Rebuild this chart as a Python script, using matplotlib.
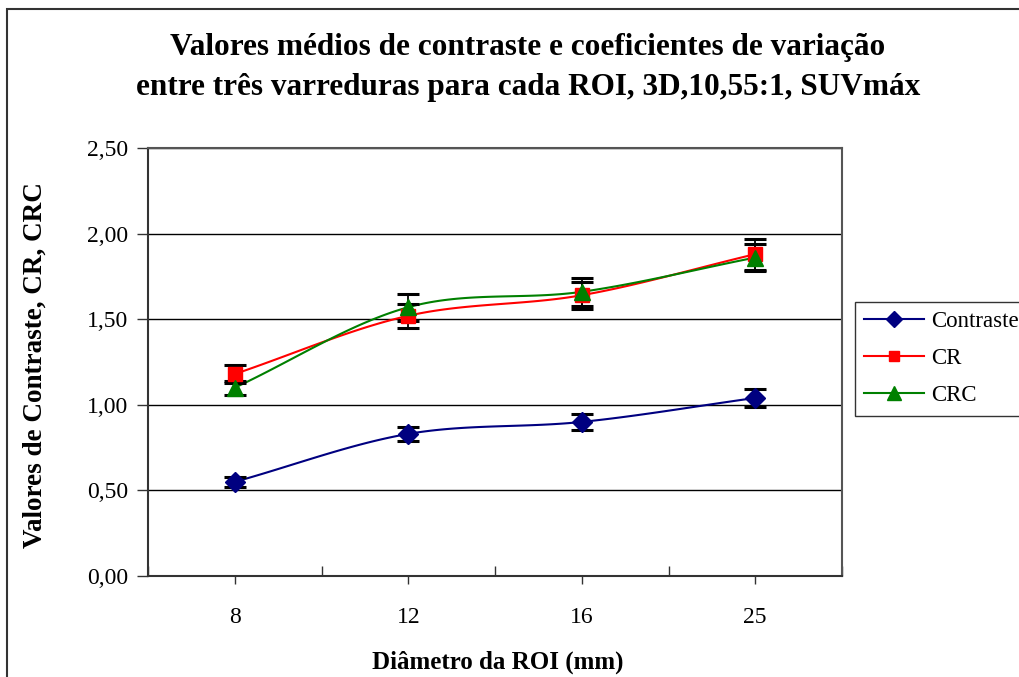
import numpy as np
import matplotlib
matplotlib.use("Agg")
import matplotlib.pyplot as plt
from matplotlib.patches import Rectangle
from matplotlib.ticker import FixedLocator, FuncFormatter

# ---- data ----
categories = ["8", "12", "16", "25"]
contraste = [0.55, 0.83, 0.90, 1.04]
contraste_err = [0.03, 0.04, 0.045, 0.05]
cr = [1.18, 1.52, 1.64, 1.88]
cr_err = [0.05, 0.07, 0.08, 0.09]
crc = [1.10, 1.57, 1.66, 1.86]
crc_err = [0.04, 0.08, 0.08, 0.08]

series = [
    ("Contraste", contraste, contraste_err, "#000080", "D", 10),
    ("CR", cr, cr_err, "#FF0000", "s", 9.5),
    ("CRC", crc, crc_err, "#008000", "^", 12),
]

plt.rcParams['font.family'] = ['Liberation Serif', 'DejaVu Serif']

def smooth(y, n=40):
    """Catmull-Rom style smoothing (like Excel's smoothed line) in category space."""
    x = np.arange(len(y), dtype=float)
    y = np.asarray(y, dtype=float)
    px = np.concatenate([[2 * x[0] - x[1]], x, [2 * x[-1] - x[-2]]])
    py = np.concatenate([[2 * y[0] - y[1]], y, [2 * y[-1] - y[-2]]])
    xs, ys = [], []
    for i in range(1, len(px) - 2):
        t = np.linspace(0, 1, n)
        p0, p1, p2, p3 = (np.array([px[j], py[j]]) for j in range(i - 1, i + 3))
        t2, t3 = t * t, t * t * t
        pts = 0.5 * ((2 * p1)[:, None] + (-p0 + p2)[:, None] * t
                     + (2 * p0 - 5 * p1 + 4 * p2 - p3)[:, None] * t2
                     + (-p0 + 3 * p1 - 3 * p2 + p3)[:, None] * t3)
        xs.append(pts[0]); ys.append(pts[1])
    return np.concatenate(xs), np.concatenate(ys)

fig = plt.figure(figsize=(10.19, 6.77), dpi=100)
ax = fig.add_axes([148 / 1019, 1 - 576 / 677, (842 - 148) / 1019, (576 - 148) / 677])

xpos = np.arange(len(categories))
handles = []
for name, vals, err, col, mk, ms in series:
    sx, sy = smooth(vals)
    ax.plot(sx, sy, color=col, lw=1.5, zorder=3)
    ax.errorbar(xpos, vals, yerr=err, fmt='none', ecolor='black', elinewidth=1.3,
                capsize=8, capthick=2.2, zorder=4)
    ax.plot(xpos, vals, linestyle='none', marker=mk, ms=ms, color=col,
            markeredgecolor=col, zorder=5)
    h, = ax.plot([], [], color=col, lw=1.5, marker=mk, ms=ms * 0.8,
                 markeredgecolor=col, label=name)
    handles.append(h)

ax.set_xlim(-0.5, len(categories) - 0.5)
ax.set_ylim(0, 2.5)
ax.set_xticks(xpos)
ax.set_xticklabels(categories)
ax.xaxis.set_minor_locator(FixedLocator(np.arange(-0.5, len(categories), 1.0)))
ax.tick_params(axis='x', which='major', direction='out', length=6, width=1, pad=16,
               labelsize=17, color='#333333')
ax.tick_params(axis='x', which='minor', direction='in', length=7, width=1, color='#333333')
ax.set_yticks(np.arange(0, 2.51, 0.5))
ax.yaxis.set_major_formatter(FuncFormatter(lambda v, p: f"{v:.2f}".replace('.', ',')))
ax.tick_params(axis='y', direction='out', length=8, width=1, labelsize=17, pad=6,
               color='#333333')
ax.grid(axis='y', color='black', lw=1)
ax.set_axisbelow(True)
for s in ['left', 'bottom']:
    ax.spines[s].set_color('#333333'); ax.spines[s].set_linewidth(1.5)
for s in ['right', 'top']:
    ax.spines[s].set_color('#555555'); ax.spines[s].set_linewidth(1.5)

fig.text(35 / 1019, 1 - 365 / 677, "Valores de Contraste, CR, CRC", rotation=90,
         ha='center', va='center', fontsize=19.5, fontweight='bold')
fig.text(498 / 1019, 1 - 662 / 677, "Diâmetro da ROI (mm)",
         ha='center', va='center', fontsize=18, fontweight='bold')

fig.text(528 / 1019, 1 - 68 / 677,
         "Valores médios de contraste e coeficientes de variação\n"
         "entre três varreduras para cada ROI, 3D,10,55:1, SUVmáx",
         ha='center', va='center', fontsize=22.5, fontweight='bold', linespacing=1.5)

leg = fig.legend(handles=handles, loc='upper left',
                 bbox_to_anchor=(855 / 1019, 1 - 302 / 677), fontsize=16.5,
                 frameon=True, fancybox=False, edgecolor='black', handlelength=2.6,
                 borderpad=0.4, labelspacing=0.7, handletextpad=0.3, borderaxespad=0)
leg.get_frame().set_linewidth(1.0)

fig.add_artist(Rectangle((7 / 1019, -0.1), 2.0, 1 - 8.5 / 677 + 0.1,
                         transform=fig.transFigure, fill=False,
                         edgecolor='#333333', lw=1.5))

fig.savefig("out.png", dpi=100)
